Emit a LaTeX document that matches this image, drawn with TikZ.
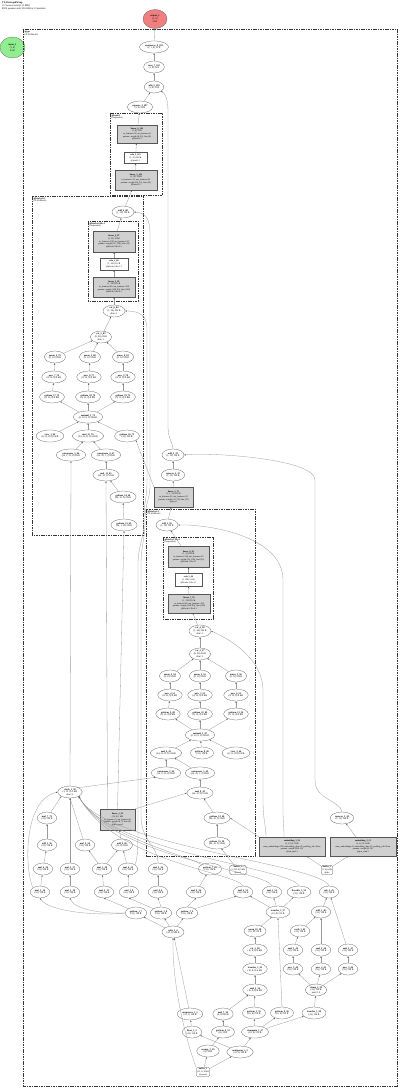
\documentclass[tikz,border=0pt]{standalone}
\usepackage{fontspec}
\setmainfont{Liberation Serif}
\usetikzlibrary{shapes.geometric,arrows.meta}
\definecolor{modgray}{HTML}{D0D0D0}
\definecolor{outred}{HTML}{F08080}
\definecolor{ingreen}{HTML}{90EE90}
\definecolor{edgec}{HTML}{9A9A9A}
\definecolor{linec}{HTML}{555555}
\tikzset{
  op/.style={ellipse, draw=linec, line width=0.25pt, inner xsep=1.4pt, inner ysep=0.5pt,
    align=center, font=\fontsize{2.4}{2.8}\selectfont, minimum height=12pt},
  mod/.style={rectangle, draw=linec, fill=modgray, line width=0.25pt, inner sep=0.8pt,
    align=center, font=\fontsize{2.2}{2.7}\selectfont},
  pl/.style={rectangle, draw=linec, fill=white, line width=0.25pt, inner sep=0.8pt,
    align=center, font=\fontsize{2.2}{2.7}\selectfont},
  bufn/.style={rectangle, rounded corners=1.5pt, draw=linec, line width=0.25pt, inner sep=1pt,
    align=center, font=\fontsize{2.2}{2.7}\selectfont},
  grp/.style={draw=black!80, line width=0.8pt, dash pattern=on 1.6pt off 0.8pt},
  sgrp/.style={draw=black!80, line width=0.55pt, dash pattern=on 1.6pt off 0.8pt},
  glab/.style={anchor=north west, align=left, inner sep=0.3pt, font=\fontsize{2.3}{2.7}\selectfont},
  e/.style={draw=edgec, line width=0.3pt, -{Stealth[length=1.7pt,width=1.3pt,color=black!70]}},
}
\begin{document}
\begin{tikzpicture}[x=1pt,y=-1pt]
\useasboundingbox (0,0) rectangle (400,1089);
% ---------- title and io
\node[anchor=north west, align=left, inner sep=0pt, font=\fontsize{2.5}{2.9}\selectfont] (title) at (2,1.5)
  {\textbf{TL;DrGraphWrap}\\117 tensors total (1.11 MB)\\8592 params total (33.6 KB) in 13 modules};
\node[ellipse, fill=outred, draw=linec, line width=0.25pt, minimum width=24pt, minimum height=19pt, inner sep=0pt, align=center, font=\fontsize{2.4}{2.8}\selectfont] (out) at (155,19) {\textbf{output\_1}\\(1, 8)\\32 B};
\node[ellipse, fill=ingreen, draw=linec, line width=0.25pt, minimum width=25pt, minimum height=21pt, inner sep=0pt, align=center, font=\fontsize{2.4}{2.8}\selectfont] (in) at (12.5,47.5) {\textbf{input\_1}\\(1, 8)\\64 B};
% ---------- groups
\draw[grp] (23,29) rectangle (397,1086);
\node[glab] (gptlab) at (24,30.5) {\textbf{@gpt}\\(TL;DrModel)};
\draw[grp] (110,113) rectangle (162,195);
\node[glab] (headlab) at (111,114) {\textbf{@head:1}\\(Sequential)};
\draw[grp] (32,196) rectangle (143,535);
\node[glab] (h0lab) at (33,197) {\textbf{@blocks.0:1}\\(TL;DrBlock)};
\draw[sgrp] (88,221) rectangle (138,301);
\node[glab] (f0lab) at (89,222) {\textbf{@blocks.0.ffn:1}\\(Sequential)};
\draw[grp] (146,509) rectangle (255,856);
\node[glab] (h1lab) at (147,510) {\textbf{@blocks.1:1}\\(TL;DrBlock)};
\draw[sgrp] (163,537) rectangle (213,619);
\node[glab] (f1lab) at (164,538) {\textbf{@blocks.1.ffn:1}\\(Sequential)};
% ---------- top chain
\node[op] (unsq) at (154,47) {\textbf{unsqueeze\_8\_102}\\(1, 1, 8) 32 B};
\node[op] (view) at (154,67) {\textbf{view\_7\_101}\\(1, 8) 32 B};
\node[op] (add5) at (154,87) {\textbf{add\_5\_118}\\(1, 8) 32 B};
\node[op] (sq3) at (140,107) {\textbf{squeeze\_3\_107}\\(1, 8) 32 B};
\node[mod, minimum width=40pt, minimum height=18pt] (lin6) at (137,134) {\textbf{linear\_6\_106}\\(1, 8) 32 B\\in\_features=32, out\_features=8\\params: weight (8, 32), bias (8)\\@head.2:1};
\node[pl, minimum width=23pt, minimum height=11pt] (relu) at (135.5,158) {\textbf{relu\_3\_105}\\(1, 32) 128 B\\@head.1:1};
\node[mod, minimum width=42pt, minimum height=20pt] (lin5) at (136,180) {\textbf{linear\_5\_104}\\(1, 32) 128 B\\in\_features=32, out\_features=32\\params: weight (32, 32), bias (32)\\@head.0:1};
% ---------- block 0
\node[op] (add4) at (123,212) {\textbf{add\_4\_88}\\(1, 32) 128 B};
\node[mod, minimum width=42pt, minimum height=21pt] (lin4) at (114,241.5) {\textbf{linear\_4\_87}\\(1, 32) 128 B\\in\_features=128, out\_features=32\\params: weight (32, 128), bias (32)\\@blocks.0.ffn.2:1};
\node[pl, minimum width=28pt, minimum height=12pt] (relu2) at (114,264) {\textbf{relu\_2\_86}\\(1, 128) 512 B\\@blocks.0.ffn.1:1};
\node[mod, minimum width=42pt, minimum height=20pt] (lin3) at (114,287) {\textbf{linear\_3\_85}\\(1, 128) 512 B\\in\_features=96, out\_features=128\\params: weight (128, 96), bias (128)\\@blocks.0.ffn.0:1};
\node[op] (cat6) at (114,311) {\textbf{cat\_6\_84}\\(1, 96) 384 B\\dim=-1};
\node[op] (cat5) at (101,337) {\textbf{cat\_5\_83}\\(8, 96) 3 KB\\dim=-1};
\node[op] (mA) at (55,357) {\textbf{mean\_4\_79}\\(8, 32) 1 KB};
\node[op] (mB) at (90,357) {\textbf{mean\_5\_80}\\(8, 32) 1 KB};
\node[op] (mC) at (123,357) {\textbf{amax\_6\_81}\\(8, 32) 1 KB};
\node[op] (pA) at (54,377) {\textbf{pow\_7\_76}\\(8, 32, 8) 8 KB};
\node[op] (pB) at (89,377) {\textbf{pow\_8\_77}\\(8, 32, 8) 8 KB};
\node[op] (pC) at (123,377) {\textbf{pow\_9\_78}\\(8, 32, 8) 8 KB};
\node[op] (gA) at (52,397) {\textbf{getitem\_17\_73}\\(8, 32, 8) 8 KB};
\node[op] (gB) at (88,397) {\textbf{getitem\_18\_74}\\(8, 32, 8) 8 KB};
\node[op] (gC) at (123,397) {\textbf{getitem\_19\_75}\\(8, 32, 8) 8 KB};
\node[op] (mm) at (88,417) {\textbf{matmul\_1\_72}\\(8, 32, 8, 3) 24 KB};
\node[op] (vA) at (50,436) {\textbf{view\_1\_69}\\(8, 32, 8, 8) 8 KB};
\node[op] (mulB) at (88,436) {\textbf{mul\_11\_70}\\(24, 32, 8, 3) 24 KB};
\node[op] (gi16) at (127,436) {\textbf{getitem\_16\_71}\\(32,) 128 B};
\node[op] (u3) at (71,455) {\textbf{unsqueeze\_3\_66}\\(24, 1, 32, 8) 3 KB};
\node[op] (u4) at (106,455) {\textbf{unsqueeze\_4\_67}\\(24, 32, 1, 3) 3 KB};
\node[op] (mul12) at (106,475) {\textbf{mul\_12\_65}\\(24, 32, 3) 9 KB};
\node[op] (gi14) at (123,497) {\textbf{getitem\_14\_64}\\(24, 32, 3) 9 KB};
\node[op] (gi12) at (124,525) {\textbf{getitem\_12\_63}\\(24, 1, 32) 3 KB};
% ---------- middle right
\node[op] (a123) at (173,455) {\textbf{add\_1\_23}\\(1, 32) 128 B};
\node[op] (sq2) at (173,475) {\textbf{squeeze\_2\_22}\\(1, 32) 128 B};
\node[mod, minimum width=39pt, minimum height=20pt] (lin2) at (173.5,497) {\textbf{linear\_2\_75}\\(1, 1, 32) 128 B\\in\_features=32, out\_features=32\\params: weight (32, 32), bias (32)\\@proj:1};
% ---------- block 1
\node[op] (a178) at (167,525) {\textbf{add\_2\_62}\\(1, 32) 128 B};
\node[mod, minimum width=41pt, minimum height=21pt] (lb4) at (188.5,557) {\textbf{linear\_8\_61}\\(1, 32) 128 B\\in\_features=128, out\_features=32\\params: weight (32, 128), bias (32)\\@blocks.1.ffn.2:1};
\node[pl, minimum width=27pt, minimum height=13pt] (relub) at (188.5,580) {\textbf{relu\_1\_60}\\(1, 128) 512 B\\@blocks.1.ffn.1:1};
\node[mod, minimum width=42pt, minimum height=19pt] (lb3) at (189,603.5) {\textbf{linear\_7\_59}\\(1, 128) 512 B\\in\_features=96, out\_features=128\\params: weight (128, 96), bias (128)\\@blocks.1.ffn.0:1};
\node[op] (cb1) at (200,631) {\textbf{cat\_4\_58}\\(1, 96) 384 B\\dim=-1};
\node[op] (cb2) at (200,654) {\textbf{cat\_3\_57}\\(8, 96) 3 KB\\dim=-1};
\node[op] (mbA) at (170,676) {\textbf{mean\_1\_54}\\(8, 32) 1 KB};
\node[op] (mbB) at (200,676) {\textbf{mean\_2\_55}\\(8, 32) 1 KB};
\node[op] (mbC) at (236,676) {\textbf{amax\_3\_56}\\(8, 32) 1 KB};
\node[op] (pbA) at (170,695) {\textbf{pow\_4\_51}\\(8, 32, 8) 8 KB};
\node[op] (pbB) at (200,695) {\textbf{pow\_5\_52}\\(8, 32, 8) 8 KB};
\node[op] (pbC) at (236,695) {\textbf{pow\_6\_53}\\(8, 32, 8) 8 KB};
\node[op] (gbA) at (168,714) {\textbf{getitem\_9\_48}\\(8, 32, 8) 8 KB};
\node[op] (gbB) at (200,714) {\textbf{getitem\_10\_49}\\(8, 32, 8) 8 KB};
\node[op] (gbC) at (236,714) {\textbf{getitem\_11\_50}\\(8, 32, 8) 8 KB};
\node[op] (mmb) at (200,735) {\textbf{matmul\_2\_47}\\(8, 32, 8, 3) 24 KB};
\node[op] (mulbA) at (166,753) {\textbf{mul\_6\_45}\\(24, 32, 8, 3) 24 KB};
\node[op] (gbD) at (202,753) {\textbf{getitem\_8\_46}\\(32,) 128 B};
\node[op] (vbC) at (236,753) {\textbf{view\_2\_44}\\(8, 32, 8, 8) 8 KB};
\node[op] (ub1) at (166,773) {\textbf{unsqueeze\_2\_42}\\(24, 1, 32, 8) 3 KB};
\node[op] (ub2) at (200,773) {\textbf{unsqueeze\_5\_43}\\(24, 32, 1, 3) 3 KB};
\node[op] (mulb2) at (200,793) {\textbf{mul\_8\_41}\\(24, 32, 3) 9 KB};
\node[op] (gb3) at (217,818) {\textbf{getitem\_13\_40}\\(24, 32, 3) 9 KB};
\node[op] (gb4) at (217,843) {\textbf{getitem\_15\_39}\\(24, 32, 3) 9 KB};
% ---------- embeddings, buffers
\node[op] (sq1) at (342,818) {\textbf{squeeze\_1\_24}\\(1, 32) 128 B};
\node[mod, minimum width=66pt, minimum height=19pt] (emb1) at (292,846.5) {\textbf{embedding\_1\_20}\\(1, 8, 32) 1 KB\\num\_embeddings=256, embedding\_dim=32, padding\_idx=None\\params: weight (256, 32)\\@tok\_emb:1};
\node[mod, minimum width=66pt, minimum height=19pt] (emb2) at (363,846.5) {\textbf{embedding\_2\_21}\\(1, 8, 32) 1 KB\\num\_embeddings=8, embedding\_dim=32, padding\_idx=None\\params: weight (8, 32)\\@pos\_emb:1};
\node[bufn] (buf1) at (238,870) {\textbf{buffer\_1}\\(1, 256, 8) 8 KB\\@mask};
\node[bufn] (buf2) at (327,870) {\textbf{buffer\_2}\\(1, 8) 64 B\\@idx};
% ---------- bottom left
\node[op] (stack) at (70,792) {\textbf{stack\_1\_58}\\(3, 32, 8) 3 KB\\dim=-1};
\node[op] (mv) at (47,818) {\textbf{mul\_7\_73}\\(32,) 128 B};
\node[op] (addA) at (47,845) {\textbf{add\_5\_56}\\(32,) 128 B};
\node[op] (mul950) at (85,845) {\textbf{mul\_9\_50}\\(32,) 128 B};
\node[op] (add960) at (122,845) {\textbf{add\_9\_60}\\(32, 8) 1 KB};
\node[mod, minimum width=35pt, minimum height=21pt] (lin1) at (117.5,819.5) {\textbf{linear\_1\_59}\\(32, 8) 1 KB\\in\_features=3, out\_features=8\\params: weight (8, 3), bias (8)\\@pos\_proj:1};
\node[op] (r1a) at (43,869) {\textbf{mul\_4\_30}\\(32,) 128 B};
\node[op] (r1b) at (70,869) {\textbf{mul\_5\_37}\\(32,) 128 B};
\node[op] (r1c) at (102,869) {\textbf{mul\_1\_38}\\(32,) 128 B};
\node[op] (r1d) at (128,869) {\textbf{mul\_4\_29}\\(32,) 128 B};
\node[op] (r1e) at (158,869) {\textbf{mul\_2\_34}\\(32,) 128 B};
\node[op] (r1f) at (210,869) {\textbf{getitem\_7\_41}\\(32,) 128 B};
\node[op] (r2a) at (40,892) {\textbf{mul\_1\_16}\\(32,) 128 B};
\node[op] (r2b) at (70,892) {\textbf{mul\_2\_18}\\(32,) 128 B};
\node[op] (r2c) at (104,892) {\textbf{mul\_2\_12}\\(32,) 128 B};
\node[op] (r2d) at (129,892) {\textbf{mul\_1\_9}\\(32,) 128 B};
\node[op] (r2e) at (158,892) {\textbf{mul\_0\_6}\\(32,) 128 B};
\node[op] (r2f) at (196,892) {\textbf{mul\_0\_36}\\(32,) 128 B};
\node[op] (r2g) at (243,892) {\textbf{mul\_3\_51}\\(32,) 128 B};
\node[op] (r2h) at (272,892) {\textbf{mul\_1\_52}\\(32,) 128 B};
\node[op] (r2i) at (299,892) {\textbf{floordiv\_1\_53}\\(32,) 128 B};
\node[op] (r2j) at (329,892) {\textbf{sub\_1\_45}\\(32,) 128 B};
\node[op] (gi7) at (136,913) {\textbf{getitem\_1\_7}\\(32,) 128 B};
\node[op] (gi8) at (161,913) {\textbf{getitem\_1\_8}\\(32,) 128 B};
\node[op] (gi9) at (187,913) {\textbf{getitem\_1\_9}\\(32,) 128 B};
\node[op] (t137) at (278,912) {\textbf{transfer\_1\_37}\\(16, 8) 512 B};
\node[op] (a146) at (321,912) {\textbf{add\_1\_46}\\(32,) 128 B};
\node[op] (split) at (173,932) {\textbf{split\_1\_4}\\(32, 3) 384 B};
\node[op] (mean1038) at (255,931) {\textbf{mean\_10\_38}\\(16, 8) 512 B};
\node[op] (rsub) at (300,931) {\textbf{rsub\_1\_42}\\(32,) 128 B};
\node[op] (cat138) at (255,950) {\textbf{cat\_1\_38}\\(16, 8, 8) 4 KB};
\node[op] (mA2) at (293,950) {\textbf{mul\_1\_43}\\(32,) 128 B};
\node[op] (mB2) at (321,950) {\textbf{mul\_2\_44}\\(32,) 128 B};
\node[op] (mC2) at (348,950) {\textbf{mul\_3\_47}\\(32,) 128 B};
\node[op] (t139) at (255,969) {\textbf{transfer\_1\_39}\\(16, 8, 8) 4 KB};
\node[op] (pA2) at (293,969) {\textbf{pow\_1\_40}\\(32,) 128 B};
\node[op] (pB2) at (321,969) {\textbf{pow\_2\_41}\\(32,) 128 B};
\node[op] (pC2) at (348,969) {\textbf{pow\_3\_44}\\(32,) 128 B};
\node[op] (mul534) at (255,990) {\textbf{mul\_5\_34}\\(16, 8, 8) 4 KB};
\node[op] (clamp) at (316,990) {\textbf{clamp\_1\_39}\\(32,) 128 B\\max=1.0};
\node[op] (u13) at (190,1014) {\textbf{unsqueeze\_1\_3}\\(32, 1) 128 B};
\node[op] (mul736) at (223,1014) {\textbf{mul\_7\_36}\\(8, 8) 256 B};
\node[op] (gi535) at (254,1013) {\textbf{getitem\_5\_35}\\(16, 8) 512 B};
\node[op] (gi636) at (282,1013) {\textbf{getitem\_6\_36}\\(16, 8) 512 B};
\node[op] (t138) at (314,1013) {\textbf{transfer\_1\_38}\\(32,) 128 B};
\node[op] (floor) at (192,1032) {\textbf{floor\_1\_2}\\(32,) 128 B};
\node[op] (gi4) at (223,1032) {\textbf{getitem\_4\_33}\\(8,) 32 B};
\node[op] (cmin) at (255,1032) {\textbf{clampmin\_1\_37}\\(16, 8) 512 B};
\node[op] (arange) at (208,1051) {\textbf{arange\_1\_20}\\(8,) 32 B};
\node[op] (contig) at (240,1052) {\textbf{contiguous\_1\_2}\\(32, 3) 384 B};
\node[bufn] (buf3) at (203,1072) {\textbf{buffer\_3}\\(32, 3) 384 B\\@coords};
% ================= edges
\draw[e] (unsq) -- (out);
\draw[e] (view) -- (unsq);
\draw[e] (add5) -- (view);
\draw[e] (sq3) -- (add5);
\draw[e] (lin6) -- (sq3);
\draw[e] (relu) -- (lin6);
\draw[e] (lin5) -- (relu);
\draw[e] (add4) -- (lin5);
\draw[e] (a123.north) .. controls (172,440) and (168,440) .. (168,425) -- (168,112) .. controls (168,98) and (165,93) .. (add5.south east);
% block 0
\draw[e] (lin4) -- (add4);
\draw[e] (relu2) -- (lin4);
\draw[e] (lin3) -- (relu2);
\draw[e] (cat6) -- (lin3);
\draw[e] (cat5) -- (cat6);
\draw[e] (mA) -- (cat5);
\draw[e] (mB) -- (cat5);
\draw[e] (mC) -- (cat5);
\draw[e] (pA) -- (mA);
\draw[e] (pB) -- (mB);
\draw[e] (pC) -- (mC);
\draw[e] (gA) -- (pA);
\draw[e] (gB) -- (pB);
\draw[e] (gC) -- (pC);
\draw[e] (mm) -- (gA);
\draw[e] (mm) -- (gB);
\draw[e] (mm) -- (gC);
\draw[e] (vA) -- (mm);
\draw[e] (mulB) -- (mm);
\draw[e] (gi16) -- (mm);
\draw[e] (u3) -- (mulB);
\draw[e] (u4) -- (mulB);
\draw[e] (mul12) -- (u4);
\draw[e] (gi14) -- (mul12);
\draw[e] (gi12) -- (gi14);
\draw[e] (lin2.north west) -- (gi16.south east);
% middle right
\draw[e] (sq2) -- (a123);
\draw[e] (lin2) -- (sq2);
\draw[e] (a178) -- (lin2);
\draw[e] (sq1.north) .. controls (340,800) and (315,800) .. (315,780) -- (315,480) .. controls (315,458) and (205,452) .. (a123.east);
\draw[e] (emb2) -- (sq1);
\draw[e] (buf2) -- (emb1);
\draw[e] (buf2) -- (emb2);
\draw[e] ([xshift=-8pt]emb1.north) .. controls (284,826) and (283,822) .. (283,810) -- (283,580) .. controls (283,535) and (205,524) .. (a178.east);
\draw[e] ([xshift=-26pt]emb1.north) .. controls (266,826) and (263,820) .. (263,800) -- (263,690) .. controls (263,660) and (232,640) .. (cb1.east);
\draw[e] (emb1.north west) -- (gb3.east);
% block 1
\draw[e] (lb4) -- (a178);
\draw[e] (relub) -- (lb4);
\draw[e] (lb3) -- (relub);
\draw[e] (cb1) -- (lb3);
\draw[e] (cb2) -- (cb1);
\draw[e] (mbA) -- (cb2);
\draw[e] (mbB) -- (cb2);
\draw[e] (mbC) -- (cb2);
\draw[e] (pbA) -- (mbA);
\draw[e] (pbB) -- (mbB);
\draw[e] (pbC) -- (mbC);
\draw[e] (gbA) -- (pbA);
\draw[e] (gbB) -- (pbB);
\draw[e] (gbC) -- (pbC);
\draw[e] (mmb) -- (gbA);
\draw[e] (mmb) -- (gbB);
\draw[e] (mmb) -- (gbC);
\draw[e] (mulbA) -- (mmb);
\draw[e] (gbD) -- (mmb);
\draw[e] (vbC) -- (mmb);
\draw[e] (ub1) -- (mulbA);
\draw[e] (ub2) -- (mulbA);
\draw[e] (mulb2) -- (ub2);
\draw[e] (gb3) -- (mulb2);
\draw[e] (gb4) -- (gb3);
\draw[e] (buf1) -- (gb4);
% stack and links upward
\draw[e] (stack.north) -- (u3.south);
\draw[e] (stack.north east) -- (ub1.south west);
\draw[e] ([xshift=-10pt]lin1.north) -- (mul12.south);
\draw[e] (lin1.north) -- (gi12.south);
\draw[e] (lin1.north east) -- (mulb2.west);
\draw[e] (add960) -- (lin1);
\draw[e] (r1e.north) .. controls (158,845) and (141,842) .. (141,815) -- (141,565) .. controls (141,545) and (145,540) .. (145,522) .. controls (145,502) and (150,500) .. (150,485) -- (150,235) .. controls (150,218) and (146,213) .. (add4.east);
\draw[e] (r1d.north east) .. controls (138,858) and (138,845) .. (138,815) -- (138,565) .. controls (138,545) and (144,540) .. (144,520) .. controls (144,500) and (147,500) .. (147,480) -- (147,330) .. controls (147,315) and (140,311) .. (cat6.east);
% bottom left
\draw[e] (addA) -- (mv);
\draw[e] (mv) -- (stack.south west);
\draw[e] (mul950) -- (stack.south);
\draw[e] (r1b) -- (stack.south);
\draw[e] (r1a) -- (addA);
\draw[e] (r1c) -- (mul950);
\draw[e] (r1c) -- (add960);
\draw[e] (r1d) -- (add960);
\draw[e] (r2a.north west) .. controls (25,872) and (22,800) .. (stack.west);
\draw[e] (r2g.north) .. controls (235,872) and (115,862) .. (stack.south east);
\draw[e] (r2h.north) .. controls (265,870) and (112,858) .. (stack.south east);
\draw[e] (r2i.north) .. controls (292,868) and (108,852) .. (stack.south east);
\draw[e] (r2j.north) .. controls (322,864) and (104,846) .. (stack.south east);
\draw[e] (r1f.north west) .. controls (190,856) and (100,836) .. (stack.south east);
\draw[e] (r2a) -- (r1a);
\draw[e] (r2b) -- (r1b);
\draw[e] (r2c) -- (r1c);
\draw[e] (r2d) -- (r1d);
\draw[e] (r2e) -- (r1e);
\draw[e] (r2f) -- (r1f);
\draw[e] (gi7.west) .. controls (100,916) and (48,912) .. (r2a.south);
\draw[e] (gi7.west) .. controls (105,914) and (74,910) .. (r2b.south);
\draw[e] (gi7.north west) -- (r2c.south);
\draw[e] (gi8.north west) -- (r2d.south);
\draw[e] (gi8.north) -- (r2e.south);
\draw[e] (gi9.north) -- (r2f.south);
\draw[e] (gi9.north east) -- (r2g.south west);
\draw[e] (split) -- (gi7);
\draw[e] (split) -- (gi8);
\draw[e] (split) -- (gi9);
% bottom right
\draw[e] (buf3.north west) .. controls (186,1040) and (172,985) .. (split.south);
\draw[e] (u13) -- (split);
\draw[e] (floor) -- (u13);
\draw[e] (contig) -- (floor);
\draw[e] (buf3) -- (contig);
\draw[e] (buf3) -- (arange);
\draw[e] (arange) -- (gi4);
\draw[e] (gi4) -- (mul736);
\draw[e] (mul736) -- (mul534);
\draw[e] (gi535) -- (mul534);
\draw[e] (contig) -- (cmin);
\draw[e] (cmin) -- (gi535);
\draw[e] (cmin) -- (gi636);
\draw[e] (cmin) -- (t138);
\draw[e] (gi636.north) -- (t137.south);
\draw[e] (mul534) -- (t139);
\draw[e] (t139) -- (cat138);
\draw[e] (cat138) -- (mean1038);
\draw[e] (mean1038) -- (t137);
\draw[e] (t137) -- (r2g);
\draw[e] (t137) -- (r2h);
\draw[e] (t137) -- (r2i);
\draw[e] (t138) -- (clamp);
\draw[e] (clamp) -- (pA2);
\draw[e] (clamp) -- (pB2);
\draw[e] (clamp) -- (pC2);
\draw[e] (pA2) -- (mA2);
\draw[e] (pB2) -- (mB2);
\draw[e] (pC2) -- (mC2);
\draw[e] (mA2) -- (rsub);
\draw[e] (rsub) -- (a146);
\draw[e] (mB2) -- (a146);
\draw[e] (mC2) -- (r2j);
\draw[e] (a146) -- (r2j);
\end{tikzpicture}
\end{document}
